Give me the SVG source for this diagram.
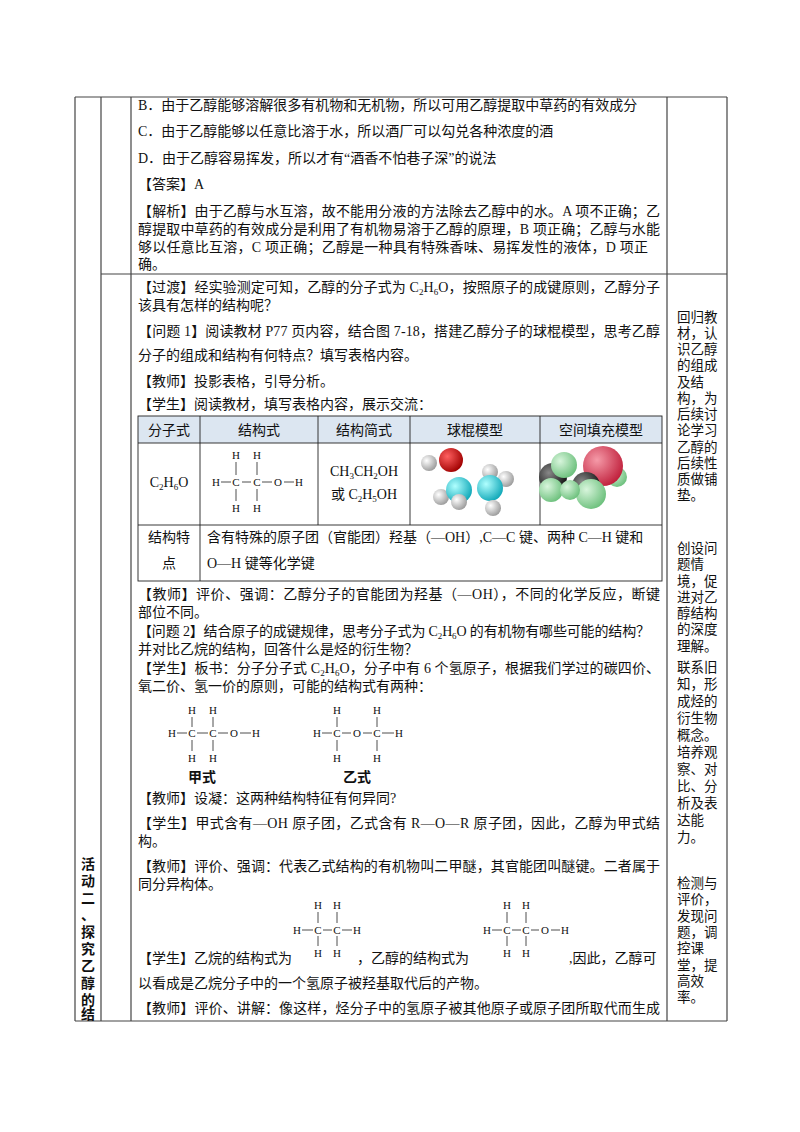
<svg xmlns="http://www.w3.org/2000/svg" width="800" height="1132" viewBox="0 0 800 1132">
<style>
text{font-family:"Liberation Serif","Noto Sans CJK SC",serif;font-size:14px;fill:#111}
.s{font-size:9px}
.f{font-size:11px;text-anchor:middle}
.r{font-size:13.5px}
.c{text-anchor:middle}
.b{font-weight:bold}
.ln{stroke:#444;stroke-width:1.2;fill:none}
.bd{stroke:#222;stroke-width:0.9;fill:none}
</style>
<defs>
<radialGradient id="gr" cx="0.35" cy="0.35" r="0.7"><stop offset="0" stop-color="#ff6060"/><stop offset="1" stop-color="#a00000"/></radialGradient>
<radialGradient id="gc" cx="0.35" cy="0.35" r="0.7"><stop offset="0" stop-color="#b0ffff"/><stop offset="1" stop-color="#10a8b8"/></radialGradient>
<radialGradient id="gw" cx="0.35" cy="0.35" r="0.7"><stop offset="0" stop-color="#ffffff"/><stop offset="1" stop-color="#9a9a9a"/></radialGradient>
<radialGradient id="gg" cx="0.35" cy="0.35" r="0.7"><stop offset="0" stop-color="#d8f5dc"/><stop offset="1" stop-color="#6cc07c"/></radialGradient>
<radialGradient id="gk" cx="0.35" cy="0.35" r="0.7"><stop offset="0" stop-color="#888"/><stop offset="1" stop-color="#111"/></radialGradient>
<radialGradient id="gp" cx="0.35" cy="0.35" r="0.7"><stop offset="0" stop-color="#f59aa8"/><stop offset="1" stop-color="#c0203c"/></radialGradient>
</defs>
<rect width="800" height="1132" fill="#fff"/>
<g id="frame" class="ln">
<line x1="75" y1="97" x2="727" y2="97"/>
<line x1="75" y1="1021" x2="727" y2="1021"/>
<line x1="75" y1="97" x2="75" y2="1021"/>
<line x1="101" y1="97" x2="101" y2="1021"/>
<line x1="131" y1="97" x2="131" y2="1021"/>
<line x1="667" y1="97" x2="667" y2="1021"/>
<line x1="727" y1="97" x2="727" y2="1021"/>
<line x1="101" y1="274" x2="727" y2="274"/>
</g>
<g id="top-text">
<text x="138" y="110">B．由于乙醇能够溶解很多有机物和无机物，所以可用乙醇提取中草药的有效成分</text>
<text x="138" y="136">C．由于乙醇能够以任意比溶于水，所以酒厂可以勾兑各种浓度的酒</text>
<text x="138" y="163">D．由于乙醇容易挥发，所以才有“酒香不怕巷子深”的说法</text>
<text x="138" y="189">【答案】A</text>
<text x="138" y="216" textLength="522" lengthAdjust="spacing">【解析】由于乙醇与水互溶，故不能用分液的方法除去乙醇中的水。A 项不正确；乙</text>
<text x="138" y="234" textLength="522" lengthAdjust="spacing">醇提取中草药的有效成分是利用了有机物易溶于乙醇的原理，B 项正确；乙醇与水能</text>
<text x="138" y="252" textLength="510" lengthAdjust="spacing">够以任意比互溶，C 项正确；乙醇是一种具有特殊香味、易挥发性的液体，D 项正</text>
<text x="138" y="269">确。</text>
</g>
<g id="main-text">
<text x="138" y="292" textLength="522" lengthAdjust="spacing">【过渡】经实验测定可知，乙醇的分子式为 C<tspan class="s" dy="3">2</tspan><tspan dy="-3">H</tspan><tspan class="s" dy="3">6</tspan><tspan dy="-3">O，按照原子的成键原则，乙醇分子</tspan></text>
<text x="138" y="310">该具有怎样的结构呢？</text>
<text x="138" y="336" textLength="522" lengthAdjust="spacing">【问题 1】阅读教材 P77 页内容，结合图 7-18，搭建乙醇分子的球棍模型，思考乙醇</text>
<text x="138" y="360">分子的组成和结构有何特点？填写表格内容。</text>
<text x="138" y="386">【教师】投影表格，引导分析。</text>
<text x="138" y="409">【学生】阅读教材，填写表格内容，展示交流：</text>
</g>
<g id="inner-table">
<rect x="138" y="416" width="524" height="27" fill="#dce6f1"/>
<g class="bd">
<rect x="138" y="416" width="524" height="165"/>
<line x1="138" y1="443" x2="662" y2="443"/>
<line x1="138" y1="525" x2="662" y2="525"/>
<line x1="200" y1="416" x2="200" y2="581"/>
<line x1="318" y1="416" x2="318" y2="525"/>
<line x1="410" y1="416" x2="410" y2="525"/>
<line x1="540" y1="416" x2="540" y2="525"/>
</g>
<text class="c" x="169" y="435">分子式</text>
<text class="c" x="259" y="435">结构式</text>
<text class="c" x="364" y="435">结构简式</text>
<text class="c" x="475" y="435">球棍模型</text>
<text class="c" x="601" y="435">空间填充模型</text>
<text class="c" x="169" y="487" font-size="13">C<tspan class="s" dy="3">2</tspan><tspan dy="-3">H</tspan><tspan class="s" dy="3">6</tspan><tspan dy="-3">O</tspan></text>
<g>
<text class="f" x="236" y="459">H</text><text class="f" x="257" y="459">H</text>
<text class="f" x="216" y="486">H</text><text class="f" x="236" y="486">C</text><text class="f" x="257" y="486">C</text><text class="f" x="278" y="486">O</text><text class="f" x="299" y="486">H</text>
<text class="f" x="236" y="512">H</text><text class="f" x="257" y="512">H</text>
<g stroke="#222" stroke-width="0.8"><line x1="221" y1="482" x2="231" y2="482"/><line x1="242" y1="482" x2="251" y2="482"/><line x1="262" y1="482" x2="272" y2="482"/><line x1="284" y1="482" x2="294" y2="482"/>
<line x1="236" y1="462" x2="236" y2="475"/><line x1="257" y1="462" x2="257" y2="475"/><line x1="236" y1="489" x2="236" y2="501"/><line x1="257" y1="489" x2="257" y2="501"/></g>
</g>
<text class="c" x="364" y="476" font-size="13">CH<tspan class="s" dy="3">3</tspan><tspan dy="-3">CH</tspan><tspan class="s" dy="3">2</tspan><tspan dy="-3">OH</tspan></text>
<text class="c" x="364" y="499" font-size="13">或 C<tspan class="s" dy="3">2</tspan><tspan dy="-3">H</tspan><tspan class="s" dy="3">5</tspan><tspan dy="-3">OH</tspan></text>
<g id="ball-stick">
<circle cx="490" cy="472" r="8" fill="url(#gw)"/>
<circle cx="506" cy="479" r="8" fill="url(#gw)"/>
<circle cx="429" cy="463" r="8" fill="url(#gw)"/>
<circle cx="451" cy="460" r="12" fill="url(#gr)"/>
<circle cx="441" cy="497" r="8" fill="url(#gw)"/>
<circle cx="459" cy="490" r="13" fill="url(#gc)"/>
<circle cx="490" cy="488" r="13" fill="url(#gc)"/>
<circle cx="459" cy="502" r="8" fill="url(#gw)"/>
<circle cx="493" cy="508" r="8" fill="url(#gw)"/>
</g>
<g id="space-fill">
<circle cx="617" cy="477" r="10" fill="url(#gg)"/>
<circle cx="553" cy="477" r="14" fill="url(#gk)"/>
<circle cx="564" cy="465" r="13" fill="url(#gg)"/>
<circle cx="551" cy="490" r="12" fill="url(#gg)"/>
<circle cx="603" cy="466" r="20" fill="url(#gp)"/>
<circle cx="586" cy="486" r="14" fill="url(#gk)"/>
<circle cx="591" cy="494" r="15" fill="url(#gg)"/>
<circle cx="570" cy="490" r="10" fill="url(#gg)"/>
</g>
<text class="c" x="169" y="542">结构特</text>
<text class="c" x="169" y="568">点</text>
<text x="207" y="542">含有特殊的原子团（官能团）羟基（—OH）,C—C 键、两种 C—H 键和</text>
<text x="207" y="568">O—H 键等化学键</text>
</g>
<g id="lower-text">
<text x="138" y="599" textLength="522" lengthAdjust="spacing">【教师】评价、强调：乙醇分子的官能团为羟基（—OH），不同的化学反应，断键</text>
<text x="138" y="617">部位不同。</text>
<text x="138" y="636" textLength="512" lengthAdjust="spacing">【问题 2】结合原子的成键规律，思考分子式为 C<tspan class="s" dy="3">2</tspan><tspan dy="-3">H</tspan><tspan class="s" dy="3">6</tspan><tspan dy="-3">O 的有机物有哪些可能的结构？</tspan></text>
<text x="138" y="654">并对比乙烷的结构，回答什么是烃的衍生物？</text>
<text x="138" y="673" textLength="522" lengthAdjust="spacing">【学生】板书：分子分子式 C<tspan class="s" dy="3">2</tspan><tspan dy="-3">H</tspan><tspan class="s" dy="3">6</tspan><tspan dy="-3">O，分子中有 6 个氢原子，根据我们学过的碳四价、</tspan></text>
<text x="138" y="691">氧二价、氢一价的原则，可能的结构式有两种：</text>
<g id="formula-a">
<text class="f" x="192" y="714">H</text><text class="f" x="213" y="714">H</text>
<text class="f" x="172" y="737">H</text><text class="f" x="192" y="737">C</text><text class="f" x="213" y="737">C</text><text class="f" x="234" y="737">O</text><text class="f" x="256" y="737">H</text>
<text class="f" x="192" y="762">H</text><text class="f" x="213" y="762">H</text>
<g stroke="#222" stroke-width="0.8"><line x1="177" y1="733" x2="187" y2="733"/><line x1="197" y1="733" x2="208" y2="733"/><line x1="218" y1="733" x2="228" y2="733"/><line x1="240" y1="733" x2="251" y2="733"/>
<line x1="192" y1="717" x2="192" y2="727"/><line x1="213" y1="717" x2="213" y2="727"/><line x1="192" y1="740" x2="192" y2="751"/><line x1="213" y1="740" x2="213" y2="751"/></g>
<text class="c b" x="202" y="782" font-size="12">甲式</text>
</g>
<g id="formula-b">
<text class="f" x="337" y="714">H</text><text class="f" x="377" y="714">H</text>
<text class="f" x="317" y="737">H</text><text class="f" x="337" y="737">C</text><text class="f" x="357" y="737">O</text><text class="f" x="377" y="737">C</text><text class="f" x="399" y="737">H</text>
<text class="f" x="337" y="762">H</text><text class="f" x="377" y="762">H</text>
<g stroke="#222" stroke-width="0.8"><line x1="322" y1="733" x2="332" y2="733"/><line x1="342" y1="733" x2="351" y2="733"/><line x1="363" y1="733" x2="372" y2="733"/><line x1="382" y1="733" x2="394" y2="733"/>
<line x1="337" y1="717" x2="337" y2="727"/><line x1="377" y1="717" x2="377" y2="727"/><line x1="337" y1="740" x2="337" y2="751"/><line x1="377" y1="740" x2="377" y2="751"/></g>
<text class="c b" x="357" y="782" font-size="12">乙式</text>
</g>
<text x="138" y="803">【教师】设凝：这两种结构特征有何异同?</text>
<text x="138" y="828" textLength="522" lengthAdjust="spacing">【学生】甲式含有—OH 原子团，乙式含有 R—O—R 原子团，因此，乙醇为甲式结</text>
<text x="138" y="846">构。</text>
<text x="138" y="871" textLength="522" lengthAdjust="spacing">【教师】评价、强调：代表乙式结构的有机物叫二甲醚，其官能团叫醚键。二者属于</text>
<text x="138" y="889">同分异构体。</text>
<g id="formula-ethane">
<text class="f" x="318" y="909">H</text><text class="f" x="337" y="909">H</text>
<text class="f" x="297" y="934">H</text><text class="f" x="318" y="934">C</text><text class="f" x="337" y="934">C</text><text class="f" x="357" y="934">H</text>
<text class="f" x="318" y="957">H</text><text class="f" x="337" y="957">H</text>
<g stroke="#222" stroke-width="0.8"><line x1="302" y1="930" x2="313" y2="930"/><line x1="323" y1="930" x2="332" y2="930"/><line x1="342" y1="930" x2="352" y2="930"/>
<line x1="318" y1="912" x2="318" y2="923"/><line x1="337" y1="912" x2="337" y2="923"/><line x1="318" y1="936" x2="318" y2="946"/><line x1="337" y1="936" x2="337" y2="946"/></g>
</g>
<g id="formula-ethanol">
<text class="f" x="507" y="909">H</text><text class="f" x="526" y="909">H</text>
<text class="f" x="487" y="934">H</text><text class="f" x="507" y="934">C</text><text class="f" x="526" y="934">C</text><text class="f" x="545" y="934">O</text><text class="f" x="565" y="934">H</text>
<text class="f" x="507" y="957">H</text><text class="f" x="526" y="957">H</text>
<g stroke="#222" stroke-width="0.8"><line x1="492" y1="930" x2="502" y2="930"/><line x1="512" y1="930" x2="521" y2="930"/><line x1="531" y1="930" x2="539" y2="930"/><line x1="551" y1="930" x2="560" y2="930"/>
<line x1="507" y1="912" x2="507" y2="923"/><line x1="526" y1="912" x2="526" y2="923"/><line x1="507" y1="936" x2="507" y2="946"/><line x1="526" y1="936" x2="526" y2="946"/></g>
</g>
<text x="138" y="963">【学生】乙烷的结构式为</text>
<text x="357" y="963">，乙醇的结构式为</text>
<text x="569" y="963">,因此，乙醇可</text>
<text x="138" y="988">以看成是乙烷分子中的一个氢原子被羟基取代后的产物。</text>
<text x="138" y="1013" textLength="522" lengthAdjust="spacing">【教师】评价、讲解：像这样，烃分子中的氢原子被其他原子或原子团所取代而生成</text>
</g>
<g id="side-label" class="b">
<text class="c" x="88" y="869">活</text><text class="c" x="88" y="886">动</text><text class="c" x="88" y="903">二</text><text class="c" x="88" y="920">、</text><text class="c" x="88" y="937">探</text><text class="c" x="88" y="954">究</text><text class="c" x="88" y="971">乙</text><text class="c" x="88" y="988">醇</text><text class="c" x="88" y="1005">的</text><text class="c" x="88" y="1019">结</text>
</g>
<g id="right-notes">
<text class="r" x="677" y="322">回归教</text><text class="r" x="677" y="338">材，认</text><text class="r" x="677" y="354">识乙醇</text><text class="r" x="677" y="370">的组成</text><text class="r" x="677" y="387">及结</text><text class="r" x="677" y="403">构，为</text><text class="r" x="677" y="419">后续讨</text><text class="r" x="677" y="435">论学习</text><text class="r" x="677" y="452">乙醇的</text><text class="r" x="677" y="468">后续性</text><text class="r" x="677" y="484">质做铺</text><text class="r" x="677" y="500">垫。</text>
<text class="r" x="677" y="553">创设问</text><text class="r" x="677" y="569">题情</text><text class="r" x="677" y="586">境，促</text><text class="r" x="677" y="602">进对乙</text><text class="r" x="677" y="618">醇结构</text><text class="r" x="677" y="634">的深度</text><text class="r" x="677" y="651">理解。</text>
<text class="r" x="677" y="672">联系旧</text><text class="r" x="677" y="689">知，形</text><text class="r" x="677" y="706">成烃的</text><text class="r" x="677" y="723">衍生物</text><text class="r" x="677" y="740">概念。</text><text class="r" x="677" y="757">培养观</text><text class="r" x="677" y="774">察、对</text><text class="r" x="677" y="791">比、分</text><text class="r" x="677" y="808">析及表</text><text class="r" x="677" y="825">达能</text><text class="r" x="677" y="842">力。</text>
<text class="r" x="677" y="888">检测与</text><text class="r" x="677" y="904">评价，</text><text class="r" x="677" y="921">发现问</text><text class="r" x="677" y="937">题，调</text><text class="r" x="677" y="953">控课</text><text class="r" x="677" y="970">堂，提</text><text class="r" x="677" y="986">高效</text><text class="r" x="677" y="1002">率。</text>
</g>
</svg>
